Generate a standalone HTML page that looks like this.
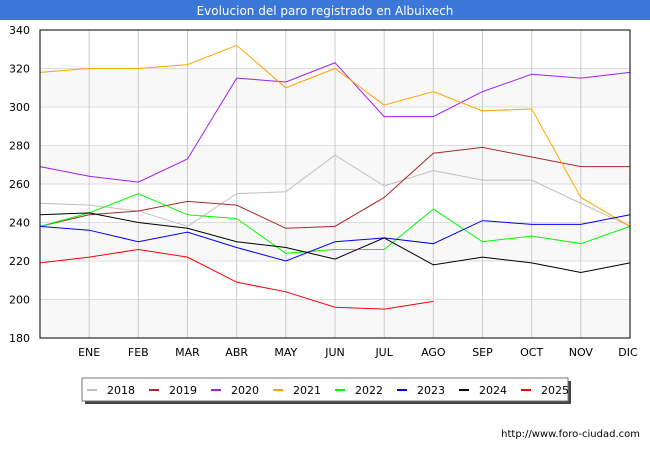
<!DOCTYPE html>
<html><head><meta charset="utf-8"><style>
body{margin:0;width:650px;height:450px;background:#fff;overflow:hidden;font-family:"DejaVu Sans","Liberation Sans",sans-serif}
svg text{font-family:"DejaVu Sans","Liberation Sans",sans-serif}
</style></head><body>
<svg id="c" width="650" height="450" xmlns="http://www.w3.org/2000/svg">
<rect x="0" y="0" width="650" height="20" fill="#3a77d8"/>
<text x="325" y="15" text-anchor="middle" fill="#fff" font-size="12">Evolucion del paro registrado en Albuixech</text>
<g id="grid"></g><g id="series"></g>
<rect x="40" y="30" width="590" height="308" fill="none" stroke="#000" stroke-width="1"/>
<g id="axes"></g>
<rect x="85" y="381" width="486" height="23" fill="#444"/>
<rect x="82" y="378" width="486" height="23" fill="#fff" stroke="#777"/>
<g id="legend"></g>
<text x="640" y="437" text-anchor="end" font-size="10" fill="#000">http://www.foro-ciudad.com</text>
</svg>
<script>
const months=["","ENE","FEB","MAR","ABR","MAY","JUN","JUL","AGO","SEP","OCT","NOV","DIC"];
const yTicks=[180,200,220,240,260,280,300,320,340];
const years=["2018","2019","2020","2021","2022","2023","2024","2025"];
const colors=["#c0c0c0","#a52a2a","#a020f0","#ffa500","#00ff00","#0000ff","#000000","#ff0000"];
const s2018=[250,249,246,238,255,256,275,259,267,262,262,250,238];
const s2019=[238,244,246,251,249,237,238,253,276,279,274,269,269];
const s2020=[269,264,261,273,315,313,323,295,295,308,317,315,318];
const s2021=[318,320,320,322,332,310,320,301,308,298,299,253,238];
const s2022=[238,245,255,244,242,224,226,226,247,230,233,229,238];
const s2023=[238,236,230,235,227,220,230,232,229,241,239,239,244];
const s2024=[244,245,240,237,230,227,221,232,218,222,219,214,219];
const s2025=[219,222,226,222,209,204,196,195,199];
const series=[s2018,s2019,s2020,s2021,s2022,s2023,s2024,s2025];
const NS="http://www.w3.org/2000/svg";
const X=i=>40+i*(590/12), Y=v=>338-(v-180)*308/160;
function mk(t,a,p){const e=document.createElementNS(NS,t);for(const k in a)e.setAttribute(k,a[k]);p.appendChild(e);return e;}
const grid=document.getElementById('grid'),axes=document.getElementById('axes');
for(let i=0;i<yTicks.length-1;i+=2){const r=mk('rect',{x:40,y:Y(yTicks[i+1]),width:590,height:Y(yTicks[i])-Y(yTicks[i+1]),fill:'#f8f8f8'},grid);

}
yTicks.forEach(v=>{const l=mk('line',{x1:40,x2:630,y1:Y(v),y2:Y(v),stroke:'#ddd'},grid);


const t=mk('text',{x:30,y:Y(v)+4,'text-anchor':'end','font-size':11},axes);t.textContent=v;

});
months.forEach((m,i)=>{if(i>0&&i<12){const l=mk('line',{x1:X(i),x2:X(i),y1:30,y2:338,stroke:'#ccc'},grid);

}
if(m){const t=mk('text',{x:X(i)-(i==12?2:0),y:356,'text-anchor':'middle','font-size':11},axes);t.textContent=m;

}});
const sg=document.getElementById('series'),lg=document.getElementById('legend');
series.forEach((s,k)=>{const p=mk('polyline',{points:s.map((v,i)=>X(i)+','+Y(v)).join(' '),fill:'none',stroke:colors[k],'stroke-width':1},sg);


const g=mk('g',{},lg);


mk('rect',{x:87+62*k,y:389,width:10,height:2,fill:colors[k]},g);
const t=mk('text',{x:107+62*k,y:394,'font-size':11},g);t.textContent=years[k];});
</script>
</body></html>
